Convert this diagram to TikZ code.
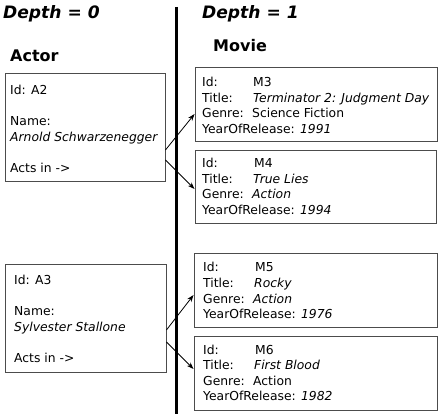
\documentclass[tikz,border=0pt]{standalone}
\usepackage{fontspec}
\setmainfont{DejaVu Sans}
\usetikzlibrary{arrows.meta}
\tikzset{
  recbox/.style={draw=black!70, line width=0.9pt, rectangle, inner sep=0pt},
  txt/.style={anchor=base west, inner sep=0pt, font=\fontsize{12.35}{14}\selectfont},
  head/.style={anchor=base west, inner sep=0pt, font=\fontsize{17.1}{21}\selectfont\bfseries\itshape},
  cls/.style={anchor=base west, inner sep=0pt, font=\fontsize{16}{19}\selectfont\bfseries},
  link/.style={-{Stealth[length=7pt,width=5pt]}, line width=0.8pt},
}
\begin{document}
\begin{tikzpicture}[x=1pt,y=-1pt]
\useasboundingbox (0,0) rectangle (442,414);
% divider
\draw[line width=3pt] (176,7) coordinate (dtop) -- (176,414) coordinate (dbot);
% headings
\node[head] (h0) at (3,19) {Depth = 0};
\node[head] (h1) at (202,19) {Depth = 1};
\node[cls] (actor) at (10,62) {Actor};
\node[cls] (movie) at (213,52) {Movie};
% actor boxes
\node[recbox, minimum width=160pt, minimum height=108pt] (a2) at (85,127) {};
\node[txt] (a2id) at (10,95) {Id: A2};
\node[txt] (a2n) at (10,126) {Name:};
\node[txt] (a2nv) at (10,141.5) {\itshape Arnold Schwarzenegger};
\node[txt] (a2a) at (10,172.5) {Acts in ->};
\node[recbox, minimum width=161pt, minimum height=108pt] (a3) at (85.5,318) {};
\node[txt] (a3id) at (14,285) {Id: A3};
\node[txt] (a3n) at (14,316) {Name:};
\node[txt] (a3nv) at (14,331.5) {\itshape Sylvester Stallone};
\node[txt] (a3a) at (14,362.5) {Acts in ->};
% movie boxes
\node[recbox, minimum width=242pt, minimum height=74pt] (m3) at (316,104) {};
\node[txt] (m3l1) at (202,87) {Id:};
\node[txt] (m3v1) at (253,87) {M3};
\node[txt] (m3l2) at (202,102.5) {Title:};
\node[txt] (m3v2) at (253,102.5) {\itshape Terminator 2: Judgment Day};
\node[txt] (m3l3) at (202,118) {Genre:};
\node[txt] (m3v3) at (252,118) {Science Fiction};
\node[txt] (m3l4) at (202,133.5) {YearOfRelease: \itshape 1991};
\node[recbox, minimum width=241pt, minimum height=73pt] (m4) at (315.5,186.5) {};
\node[txt] (m4l1) at (202,168) {Id:};
\node[txt] (m4v1) at (254,168) {M4};
\node[txt] (m4l2) at (202,183.5) {Title:};
\node[txt] (m4v2) at (253,183.5) {\itshape True Lies};
\node[txt] (m4l3) at (202,199) {Genre:};
\node[txt] (m4v3) at (252,199) {\itshape Action};
\node[txt] (m4l4) at (202,214.5) {YearOfRelease: \itshape 1994};
\node[recbox, minimum width=243pt, minimum height=74pt] (m5) at (315.5,290) {};
\node[txt] (m5l1) at (203,272) {Id:};
\node[txt] (m5v1) at (255,272) {M5};
\node[txt] (m5l2) at (203,287.5) {Title:};
\node[txt] (m5v2) at (254,287.5) {\itshape Rocky};
\node[txt] (m5l3) at (203,303) {Genre:};
\node[txt] (m5v3) at (253,303) {\itshape Action};
\node[txt] (m5l4) at (203,318.5) {YearOfRelease: \itshape 1976};
\node[recbox, minimum width=243pt, minimum height=74pt] (m6) at (315.5,373) {};
\node[txt] (m6l1) at (203,354) {Id:};
\node[txt] (m6v1) at (255,354) {M6};
\node[txt] (m6l2) at (203,369.5) {Title:};
\node[txt] (m6v2) at (254,369.5) {\itshape First Blood};
\node[txt] (m6l3) at (203,385) {Genre:};
\node[txt] (m6v3) at (253,385) {Action};
\node[txt] (m6l4) at (203,400.5) {YearOfRelease: \itshape 1982};
% links
\draw[link] ([yshift=-23pt]a2.east) -- ([yshift=-10pt]m3.west);
\draw[link] ([yshift=-33pt]a2.east) -- ([yshift=-2.5pt]m4.west);
\draw[link] ([yshift=-12pt]a3.east) -- ([yshift=-5pt]m5.west);
\draw[link] ([yshift=-24pt]a3.east) -- ([yshift=4pt]m6.west);
\end{tikzpicture}
\end{document}
